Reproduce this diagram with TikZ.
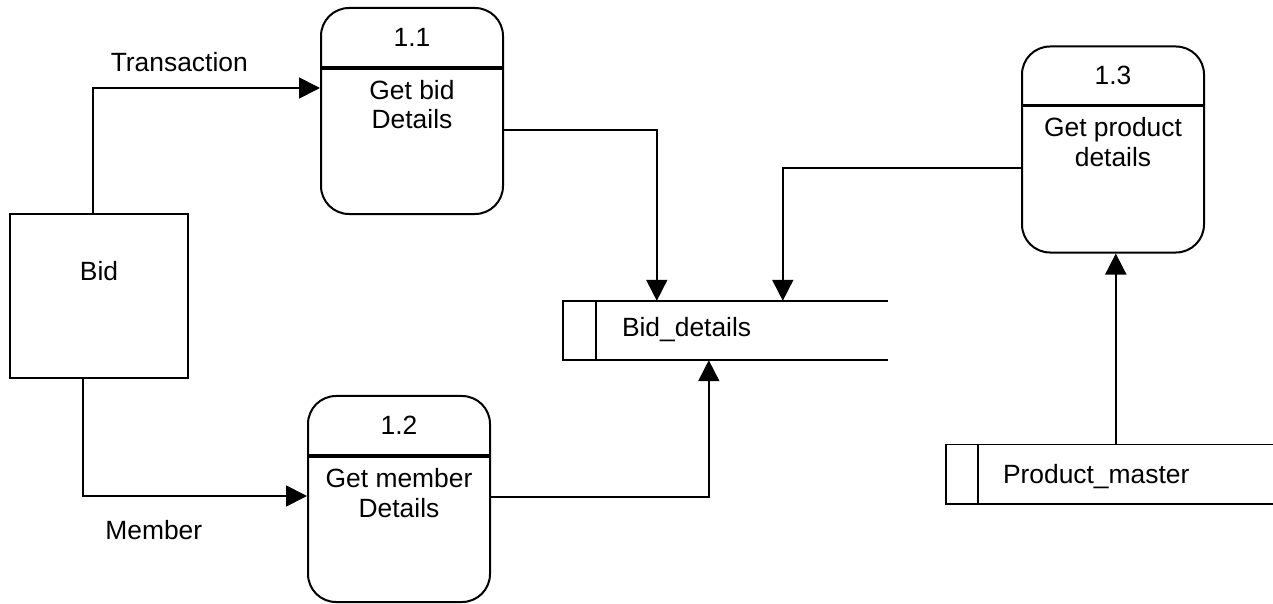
\documentclass[tikz,border=0pt]{standalone}
\usepackage{fontspec}
\setmainfont{Liberation Sans}
\usepackage{tikz}
\usetikzlibrary{calc,arrows.meta,positioning}
\tikzset{
  proc/.style={draw, line width=2bp, rounded corners=28bp, minimum width=182bp, minimum height=206bp, inner sep=0pt},
  ent/.style={draw, line width=1.8bp, minimum width=178bp, minimum height=164bp, inner sep=0pt},
  store/.style={minimum width=#1, minimum height=59bp, inner sep=0pt},
  sline/.style={line width=1.6bp},
  divider/.style={line width=3.6bp},
  flow/.style={line width=1.8bp, -{Triangle[length=21bp,width=21bp]}},
  txt/.style={font=\fontsize{26.5}{30}\selectfont, inner sep=0pt, align=center},
  lbl/.style={font=\fontsize{26.5}{30}\selectfont, inner sep=0pt}
}

\begin{document}
\begin{tikzpicture}[x=1bp,y=-1bp]
  \useasboundingbox (0,0) rectangle (1273,604);

  % processes
  \node[proc] (p1) at (412,111) {};
  \node[proc] (p2) at (399,499) {};
  \node[proc] (p3) at (1113,149.5) {};

  \draw[divider] ($(p1.north west)+(0,61)$) -- ($(p1.north east)+(0,61)$);
  \draw[divider] ($(p2.north west)+(0,61)$) -- ($(p2.north east)+(0,61)$);
  \draw[divider] ($(p3.north west)+(0,60)$) -- ($(p3.north east)+(0,60)$);

  \node[txt, anchor=base] at ($(p1.north)+(0,40)$) {1.1};
  \node[txt, anchor=base] at ($(p2.north)+(0,40)$) {1.2};
  \node[txt, anchor=base] at ($(p3.north)+(0,39)$) {1.3};
  % base = last line
  \node[txt, anchor=base] at ($(p1.north)+(0,122)$) {Get bid\\Details};
  \node[txt, anchor=base] at ($(p2.north)+(0,122)$) {Get member\\Details};
  \node[txt, anchor=base] at ($(p3.north)+(0,121)$) {Get product\\details};

  % external entity
  \node[ent] (bid) at (99,296) {};
  \node[txt, anchor=base] at ($(bid.north)+(0,67)$) {Bid};

  % data stores
  \node[store=325bp] (bd) at (725.5,330.5) {};
  \draw[sline] (bd.north east) -- (bd.north west) -- (bd.south west) -- (bd.south east);
  \draw[sline] ($(bd.north west)+(33,0)$) -- ($(bd.south west)+(33,0)$);
  \node[lbl, anchor=base west] at ($(bd.north west)+(59,36)$) {Bid\_details};

  \node[store=327bp] (pm) at (1109.5,474) {};
  \draw[sline] (pm.north east) -- (pm.north west) -- (pm.south west) -- (pm.south east);
  \draw[sline] ($(pm.north west)+(32,0)$) -- ($(pm.south west)+(32,0)$);
  \node[lbl, anchor=base west] at ($(pm.north west)+(57,39)$) {Product\_master};

  % data flows
  \draw[flow] ($(bid.north)+(-6,0)$) |- node[lbl, pos=0.69, above=15bp]{Transaction} ($(p1.west)+(0,-23)$);
  \draw[flow] ($(bid.south)+(-16,0)$) |- node[lbl, pos=0.658, below=23bp]{Member} ($(p2.west)+(0,-3)$);
  \draw[flow] ($(p1.east)+(0,19)$) -| ($(bd.north west)+(94,0)$);
  \draw[flow] ($(p3.west)+(0,18.5)$) -| ($(bd.north west)+(220,0)$);
  \draw[flow] ($(p2.east)+(0,-2)$) -| ($(bd.south west)+(146,0)$);
  \coordinate (pmt) at ($(pm.north west)+(170,0)$);
  \draw[flow] (pmt) -- (pmt |- p3.south);
\end{tikzpicture}
\end{document}
